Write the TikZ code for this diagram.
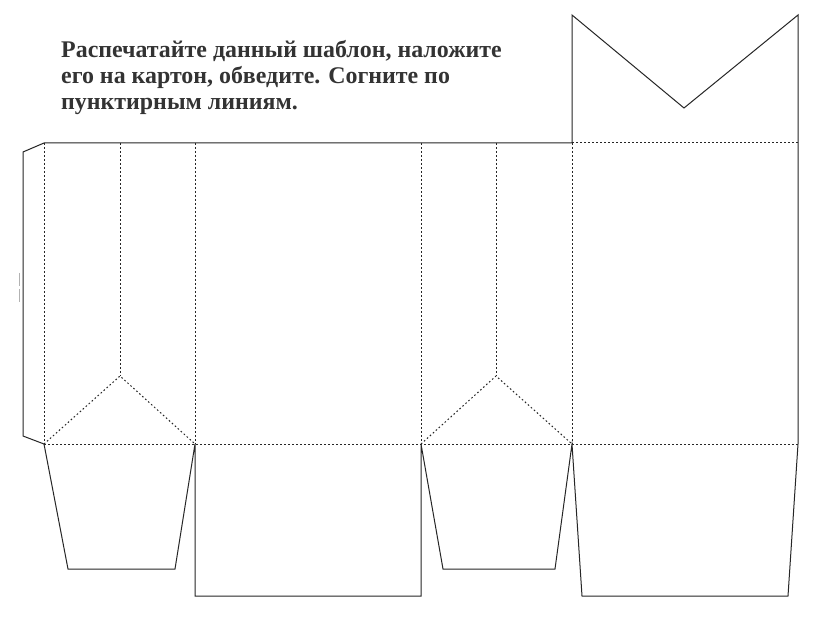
\documentclass[tikz,border=0pt]{standalone}
\usepackage{fontspec}
\setmainfont{Liberation Serif}
\begin{document}
\begin{tikzpicture}[x=1pt,y=-1pt,
  cutline/.style={line width=1pt,draw=black!85,line join=miter},
  foldline/.style={line width=1pt,draw=black!85,dash pattern=on 1.6pt off 2.4pt},
  tinymark/.style={line width=0.8pt,draw=black!30,dash pattern=on 13pt off 3pt},
  caption/.style={anchor=base west,inner sep=0pt,text=black!80,
    font=\fontsize{23.9}{26}\selectfont\bfseries}]
\useasboundingbox[fill=white] (0,0) rectangle (822,628);
% instructions
\node[caption] (l1) at (61,58) {Распечатайте данный шаблон, наложите};
\node[caption] (l2) at (61,84) {его на картон, обведите. Согните по};
\node[caption] (l3) at (61,110) {пунктирным линиям.};
% fold lines
\draw[foldline] (44,444) -- (798,444);
\draw[foldline] (572,143) -- (798,143);
\foreach \x in {44,195,421,572} \draw[foldline] (\x,143) -- (\x,444);
\draw[foldline] (120,143) -- (120,376);
\draw[foldline] (496,143) -- (496,376);
\draw[foldline] (44,444) -- (120,376) -- (195,444);
\draw[foldline] (421,444) -- (496,376) -- (572,444);
% small mark on the left
\draw[tinymark] (19,273) -- (19,302);
% outline
\draw[cutline] (44,143) -- (572,143) -- (572,15) -- (684,108) -- (798,15)
  -- (798,444) -- (788,596) -- (582,596) -- (572,444) -- (555,569)
  -- (443,569) -- (421,444) -- (421,596) -- (195,596) -- (195,444)
  -- (175,569) -- (68,569) -- (44,444) -- (23,436) -- (23,152) -- cycle;
\end{tikzpicture}
\end{document}
